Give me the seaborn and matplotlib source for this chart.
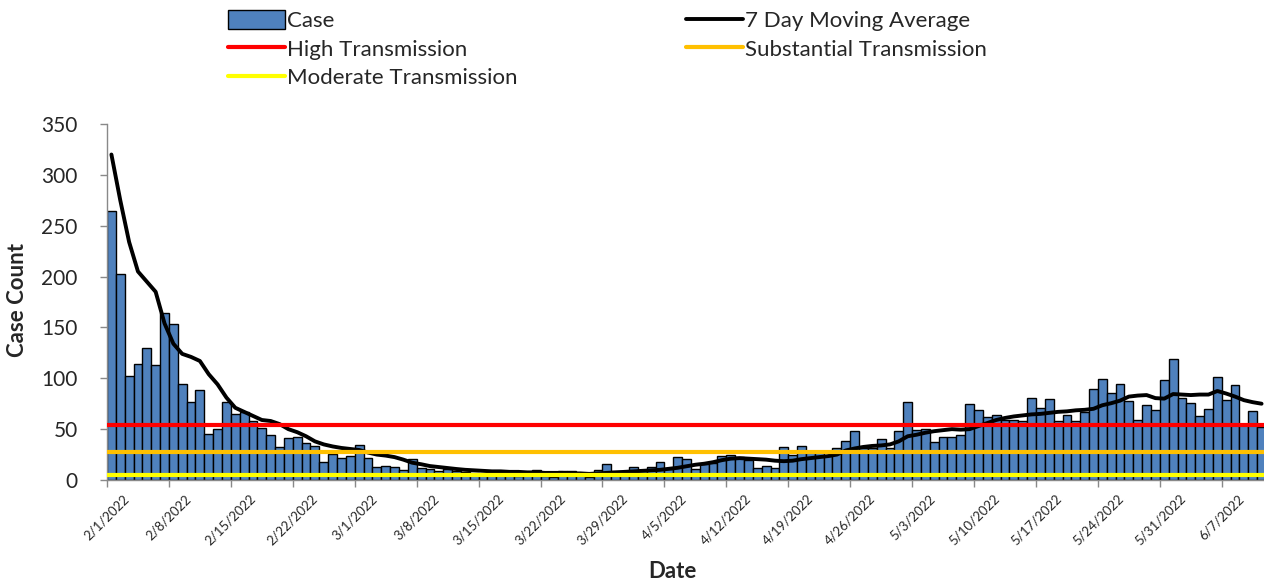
import numpy as np
import pandas as pd
import matplotlib
matplotlib.use("Agg")
import matplotlib.pyplot as plt
import matplotlib.transforms as mtransforms
import seaborn as sns

# daily data, starting 2/1/2022
start_date = "2022-02-01"

cases = [
    264, 203, 102, 114, 130, 113, 164, 153, 94, 77, 88, 45, 50, 77,
    65, 67, 58, 51, 44, 32, 41, 42, 36, 33, 18, 26, 22, 24,
    34, 22, 13, 14, 13, 10, 21, 12, 11, 9, 11, 9, 8, 7,
    6, 5, 6, 5, 4, 5, 10, 4, 3, 9, 9, 5, 3, 10,
    16, 9, 9, 13, 10, 13, 18, 11, 23, 21, 11, 16, 17, 24,
    25, 23, 20, 12, 14, 12, 32, 25, 33, 29, 29, 24, 31, 38,
    48, 31, 31, 40, 31, 48, 77, 49, 50, 37, 42, 42, 44, 75,
    69, 62, 64, 59, 59, 58, 81, 71, 80, 58, 64, 58, 67, 89,
    99, 86, 94, 78, 59, 74, 69, 98, 119, 81, 76, 63, 70, 101,
    79, 93, 55, 68, 52,
]

moving_avg = [
    320, 275, 234, 205, 195, 185, 154, 134, 124, 121, 117, 104, 94, 81,
    71, 67, 63, 59, 58, 55, 50, 47, 43, 38, 35, 33, 31.5, 30.5,
    29.5, 27, 25, 24, 22.5, 20, 17, 15.5, 13.7, 12.7, 11.7, 10.8, 10, 9.5,
    9, 8.5, 8.5, 8, 8, 7.5, 7.5, 7, 7, 7, 6.5, 6.5, 6, 6.5,
    7, 7.5, 8, 8.5, 9, 9.5, 10, 11, 12, 13.5, 15, 16, 17.5, 19.5,
    21, 21.5, 21, 20.5, 20, 19, 18.5, 19, 20.5, 21.5, 22.5, 23.5, 25, 29,
    31, 32.5, 33.5, 34, 35, 38, 43, 44.5, 46.5, 48, 49, 50, 49.5, 50,
    53, 56, 59, 61, 62.5, 63.5, 64.5, 65, 66, 67, 67.5, 68.5, 69, 70,
    73.5, 75.5, 78, 82, 83, 83.5, 80.5, 80, 84.5, 84, 83.5, 84, 84, 87.5,
    85, 82, 78.5, 76.5, 75,
]

# transmission thresholds (cases per day)
high_level = 54.4
substantial_level = 27.2
moderate_level = 5.4

y_ticks = [0, 50, 100, 150, 200, 250, 300, 350]

dates = pd.date_range(start_date, periods=len(cases), freq="D")
df = pd.DataFrame({
    "pos": np.arange(len(cases)),
    "label": [f"{d.month}/{d.day}/{d.year}" for d in dates],
    "Case": cases,
    "MA": moving_avg,
})

sns.set_theme(style="white")
plt.rcParams["font.family"] = ["Lato", "DejaVu Sans"]

fig = plt.figure(figsize=(12.64, 5.88), dpi=100)
ax = fig.add_axes([107 / 1264, 108 / 588, 1159 / 1264, 356 / 588])

# bars
sns.barplot(data=df, x="pos", y="Case", native_scale=True, width=1.0,
            color="#4F81BD", saturation=1, edgecolor="black", linewidth=1.0,
            label="Case", ax=ax)

# 7 day moving average
sns.lineplot(data=df, x="pos", y="MA", color="black", lw=2.8,
             label="7 Day Moving Average", ax=ax, zorder=4)

# thresholds
ax.axhline(high_level, color="#FF0000", lw=3, label="High Transmission", zorder=5)
ax.axhline(substantial_level, color="#FFC000", lw=3, label="Substantial Transmission", zorder=5)
ax.axhline(moderate_level, color="#FFFF00", lw=3, label="Moderate Transmission", zorder=5)

ax.set_xlim(-0.5, len(cases) - 0.5)
ax.set_ylim(0, 350)
ax.set_yticks(y_ticks)
ax.set_yticklabels([str(v) for v in y_ticks], fontsize=15)

week_idx = df["pos"][::7]
ax.set_xticks(week_idx - 0.5)
ax.set_xticklabels(df["label"][::7], rotation=45, ha="center", va="top", fontsize=9.5)
shift = mtransforms.ScaledTranslation(5 / 100, 0, fig.dpi_scale_trans)
for lab in ax.get_xticklabels():
    lab.set_transform(lab.get_transform() + shift)

for side in ["top", "right"]:
    ax.spines[side].set_visible(False)
for side in ["left", "bottom"]:
    ax.spines[side].set_color("#898989")
    ax.spines[side].set_linewidth(1.0)
ax.tick_params(axis="both", bottom=True, left=True, direction="out",
               length=5, width=1, color="#898989")
ax.tick_params(axis="y", pad=16)
ax.tick_params(axis="x", pad=4)

ax.set_xlabel("Date", fontsize=16, fontweight="bold")
ax.set_ylabel("Case Count", fontsize=16, fontweight="bold")
ax.xaxis.set_label_coords((672 - 107) / 1159, (588 - 572 - 108) / 356)
ax.xaxis.label.set_va("center")
ax.yaxis.set_label_coords((18 - 107) / 1159, (588 - 300 - 108) / 356)
ax.yaxis.label.set_va("center")

# legend, 2 columns filled row by row
handles, labels = ax.get_legend_handles_labels()
lookup = dict(zip(labels, handles))
order = ["Case", "High Transmission", "Moderate Transmission",
         "7 Day Moving Average", "Substantial Transmission"]
if ax.get_legend():
    ax.get_legend().remove()
fig.legend([lookup[k] for k in order], order, ncol=2, loc="upper left",
           bbox_to_anchor=(228 / 1264, 1 - 10 / 588), frameon=False,
           fontsize=16, handlelength=2.55, handleheight=0.95,
           handletextpad=0.1, columnspacing=7.6, labelspacing=0.33,
           borderpad=0, borderaxespad=0)

fig.savefig("out.png", dpi=100)
plt.close(fig)
